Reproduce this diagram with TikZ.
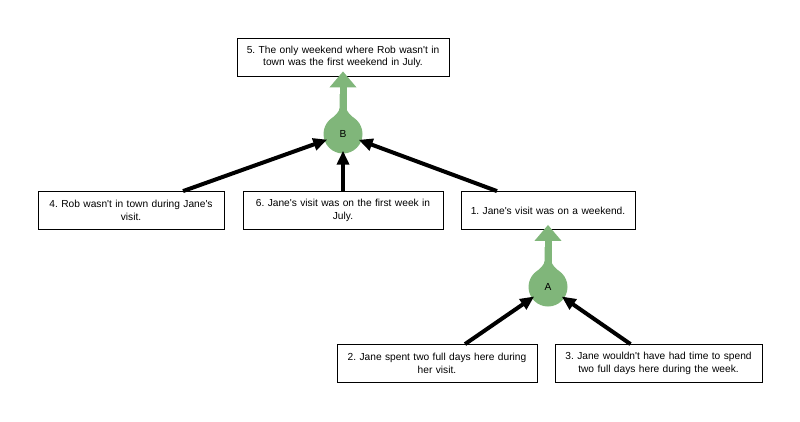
\documentclass[tikz,border=0pt]{standalone}
\usepackage{fontspec}
\setmainfont{Liberation Sans}[Ligatures=TeXOff]
\usetikzlibrary{arrows.meta}
\definecolor{joingreen}{RGB}{128,182,122}
\frenchspacing

\begin{document}
\begin{tikzpicture}
	[x=1pt, y=-1pt,
	 claim/.style={rectangle, draw, fill=white, line width=0.8pt, align=center,
	   minimum height=38pt, inner xsep=4pt, font=\fontsize{10.2}{12.5}\selectfont},
	 joint/.style={circle, fill=joingreen, minimum size=39pt, inner sep=0pt,
	   font=\fontsize{10.2}{12}\selectfont},
	 infer/.style={line width=4pt, shorten >=-3pt, -{Triangle[length=14pt, width=12pt]}},
	 conclude/.style={draw=joingreen, line width=7pt, shorten >=-5pt,
	   -{Triangle[length=16pt, width=26pt]}}]
	\useasboundingbox (0,0) rectangle (800,421);

	% claims
	\node[claim, text width=204pt] (c5) at (343,57) {5. The only weekend where Rob wasn't in\\town was the first weekend in July.};
	\node[claim, text width=178pt] (c4) at (131,210.5) {4. Rob wasn't in town during Jane's\\visit.};
	\node[claim, text width=192pt] (c6) at (343,210.5) {6. Jane's visit was on the first week in\\July.};
	\node[claim, text width=166pt] (c1) at (548,210.5) {1. Jane's visit was on a weekend.};
	\node[claim, text width=192pt] (c2) at (437,363.5) {2. Jane spent two full days here during\\her visit.};
	\node[claim, text width=199pt] (c3) at (658.5,363.5) {3. Jane wouldn't have had time to spend\\two full days here during the week.};

	% joints
	\node[joint] (B) at (343,134) {B};
	\node[joint] (A) at (548,287) {A};
	\foreach \j in {A,B}
		\fill[joingreen, shift={(\j.center)}] (-3.5,-40) -- (-3.5,-26)
			.. controls (-3.5,-20) and (-14.4,-14.8) .. (-17.5,-7.4) -- (17.5,-7.4)
			.. controls (14.4,-14.8) and (3.5,-20) .. (3.5,-26) -- (3.5,-40) -- cycle;

	% supports
	\draw[conclude] (B) -- (c5);
	\draw[conclude] (A) -- (c1);
	\draw[infer] ([xshift=52pt]c4.north) -- (B);
	\draw[infer] (c6) -- (B);
	\draw[infer] ([xshift=-51pt]c1.north) -- (B);
	\draw[infer] ([xshift=28pt]c2.north) -- (A);
	\draw[infer] ([xshift=-28pt]c3.north) -- (A);
\end{tikzpicture}
\end{document}
